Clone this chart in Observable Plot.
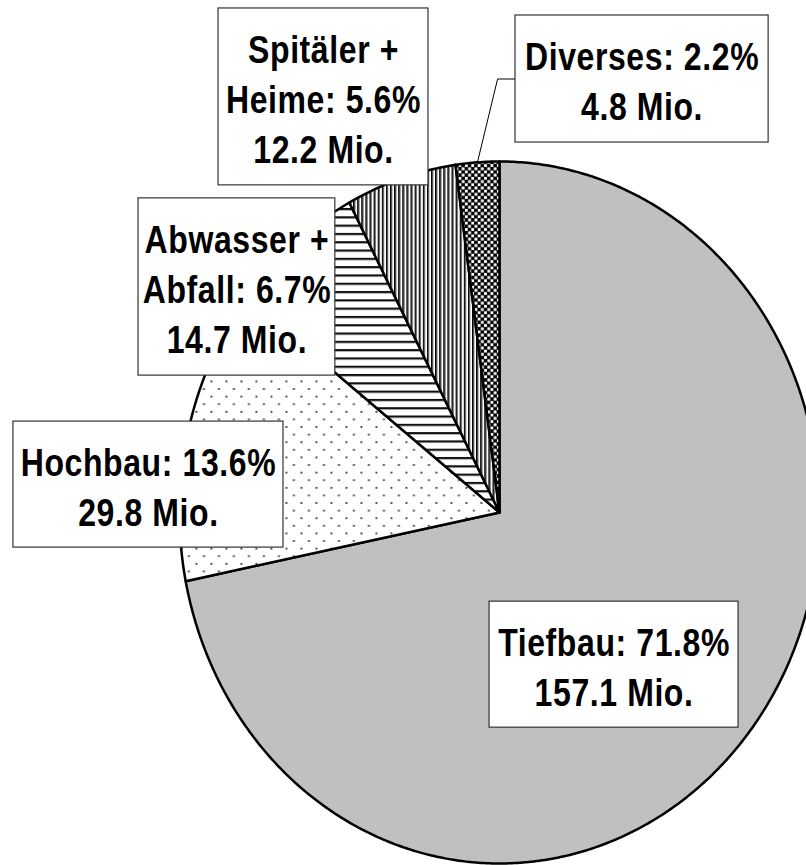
<!DOCTYPE html>
<html><head><meta charset="utf-8">
<script src="https://cdn.jsdelivr.net/npm/d3@7"></script>
<script src="https://cdn.jsdelivr.net/npm/@observablehq/plot@0.6"></script>
<style>body{margin:0;background:#fff;} #chart svg{display:block;background:#fff;}</style>
</head><body><div id="chart"></div>
<script>
// ---- data ----
const categories = ["Tiefbau", "Hochbau", "Abwasser +\nAbfall", "Spitäler +\nHeime", "Diverses"];
const valuesMio = [157.1, 29.8, 14.7, 12.2, 4.8];
const percents = [71.8, 13.6, 6.7, 5.6, 2.2];
const sliceFills = ["#c0c0c0", "url(#pDots)", "url(#pHoriz)", "url(#pVert)", "url(#pCheck)"];

// label box layout, in pie units (radius = 1, origin = pie centre)
const boxX1 = [-0.031, -1.519, -1.128, -0.878, 0.050];
const boxX2 = [ 0.747, -0.675, -0.513, -0.222, 0.841];
const boxY1 = [-0.613, -0.100,  0.390,  0.932, 1.054];
const boxY2 = [-0.254,  0.259,  0.895,  1.436, 1.416];
const hasLeader = [false, false, false, false, true];

// ---- geometry from values ----
const total = d3.sum(valuesMio);
const slicePts = [];
const mids = [];
let acc = 0;
categories.forEach((c, i) => {
  const a0 = acc / total * 2 * Math.PI;
  acc += valuesMio[i];
  const a1 = acc / total * 2 * Math.PI;
  mids.push((a0 + a1) / 2);
  const n = Math.max(2, Math.ceil((a1 - a0) / (Math.PI / 360)));
  slicePts.push({k: i, x: 0, y: 0, fill: sliceFills[i]});
  for (let j = 0; j <= n; j++) {
    const a = a0 + (a1 - a0) * j / n;
    slicePts.push({k: i, x: Math.sin(a), y: Math.cos(a), fill: sliceFills[i]});
  }
  slicePts.push({k: i, x: 0, y: 0, fill: sliceFills[i]});
});

const boxes = categories.map((c, i) => ({
  x1: boxX1[i], x2: boxX2[i], y1: boxY1[i], y2: boxY2[i],
  label: `${c}: ${percents[i]}%\n${valuesMio[i]} Mio.`
}));

const leaderPts = [];
categories.forEach((c, i) => {
  if (!hasLeader[i]) return;
  const ym = (boxY1[i] + boxY2[i]) / 2;
  leaderPts.push({x: Math.sin(mids[i]), y: Math.cos(mids[i])});
  leaderPts.push({x: boxX1[i] - 0.056, y: ym});
  leaderPts.push({x: boxX1[i], y: ym});
});

const plot = Plot.plot({
  width: 806, height: 865, margin: 0,
  x: {domain: [-1, 1], range: [179, 819], axis: null},
  y: {domain: [-1, 1], range: [863, 161], axis: null},
  color: {type: "identity"},
  marks: [
    Plot.line(slicePts, {x: "x", y: "y", z: "k", fill: "fill", stroke: "black", strokeWidth: 2.5, strokeLinejoin: "round"}),
    Plot.line(leaderPts, {x: "x", y: "y", stroke: "black", strokeWidth: 1}),
    Plot.rect(boxes, {x1: "x1", x2: "x2", y1: "y1", y2: "y2", fill: "white", stroke: "#333", strokeWidth: 1.2}),
    Plot.text(boxes, {x: d => (d.x1 + d.x2) / 2, y: d => (d.y1 + d.y2) / 2, text: "label",
      fontSize: 32, fontWeight: "bold", fontFamily: "Liberation Sans, Arial, sans-serif",
      lineHeight: 1.3, fill: "black", lineAnchor: "middle", textAnchor: "middle"})
  ]
});

// patterns
const svg = d3.select(plot.tagName.toLowerCase() === "svg" ? plot : plot.querySelector("svg"));
const defs = svg.insert("defs", ":first-child");
function pat(id, w, h) {
  return defs.append("pattern").attr("id", id).attr("patternUnits", "userSpaceOnUse").attr("width", w).attr("height", h);
}
let p = pat("pDots", 15, 15.2);
p.append("rect").attr("width", 15).attr("height", 15.2).attr("fill", "white");
p.append("rect").attr("x", 0).attr("y", 0).attr("width", 1.8).attr("height", 1.8).attr("fill", "#333");
p.append("rect").attr("x", 7.5).attr("y", 7.6).attr("width", 1.8).attr("height", 1.8).attr("fill", "#333");
p = pat("pHoriz", 10, 8.3);
p.append("rect").attr("width", 10).attr("height", 8.3).attr("fill", "white");
p.append("rect").attr("width", 10).attr("height", 2.2).attr("fill", "#111");
p = pat("pVert", 4.1, 10);
p.append("rect").attr("width", 4.1).attr("height", 10).attr("fill", "white");
p.append("rect").attr("width", 1.5).attr("height", 10).attr("fill", "#000");
p.append("rect").attr("x", 1.5).attr("width", 1).attr("height", 10).attr("fill", "#888");
p = pat("pCheck", 6.4, 6.4);
p.append("rect").attr("width", 6.4).attr("height", 6.4).attr("fill", "black");
p.append("rect").attr("x", 0.4).attr("y", 0.4).attr("width", 2.9).attr("height", 2.9).attr("fill", "white");
p.append("rect").attr("x", 3.6).attr("y", 3.6).attr("width", 2.9).attr("height", 2.9).attr("fill", "white");

// vertically stretched, slightly tracked lettering, as in the original
svg.selectAll('g[aria-label="text"] text').each(function() {
  const t = this;
  let tr = t.getAttribute("transform");
  if (!tr) {
    const x = t.getAttribute("x") || 0, y = t.getAttribute("y") || 0;
    t.removeAttribute("x"); t.removeAttribute("y");
    tr = `translate(${x},${y})`;
  }
  t.setAttribute("transform", tr + " scale(1,1.2)");
  t.setAttribute("letter-spacing", "0.6");
});

document.getElementById("chart").append(plot);
</script>
</body></html>
